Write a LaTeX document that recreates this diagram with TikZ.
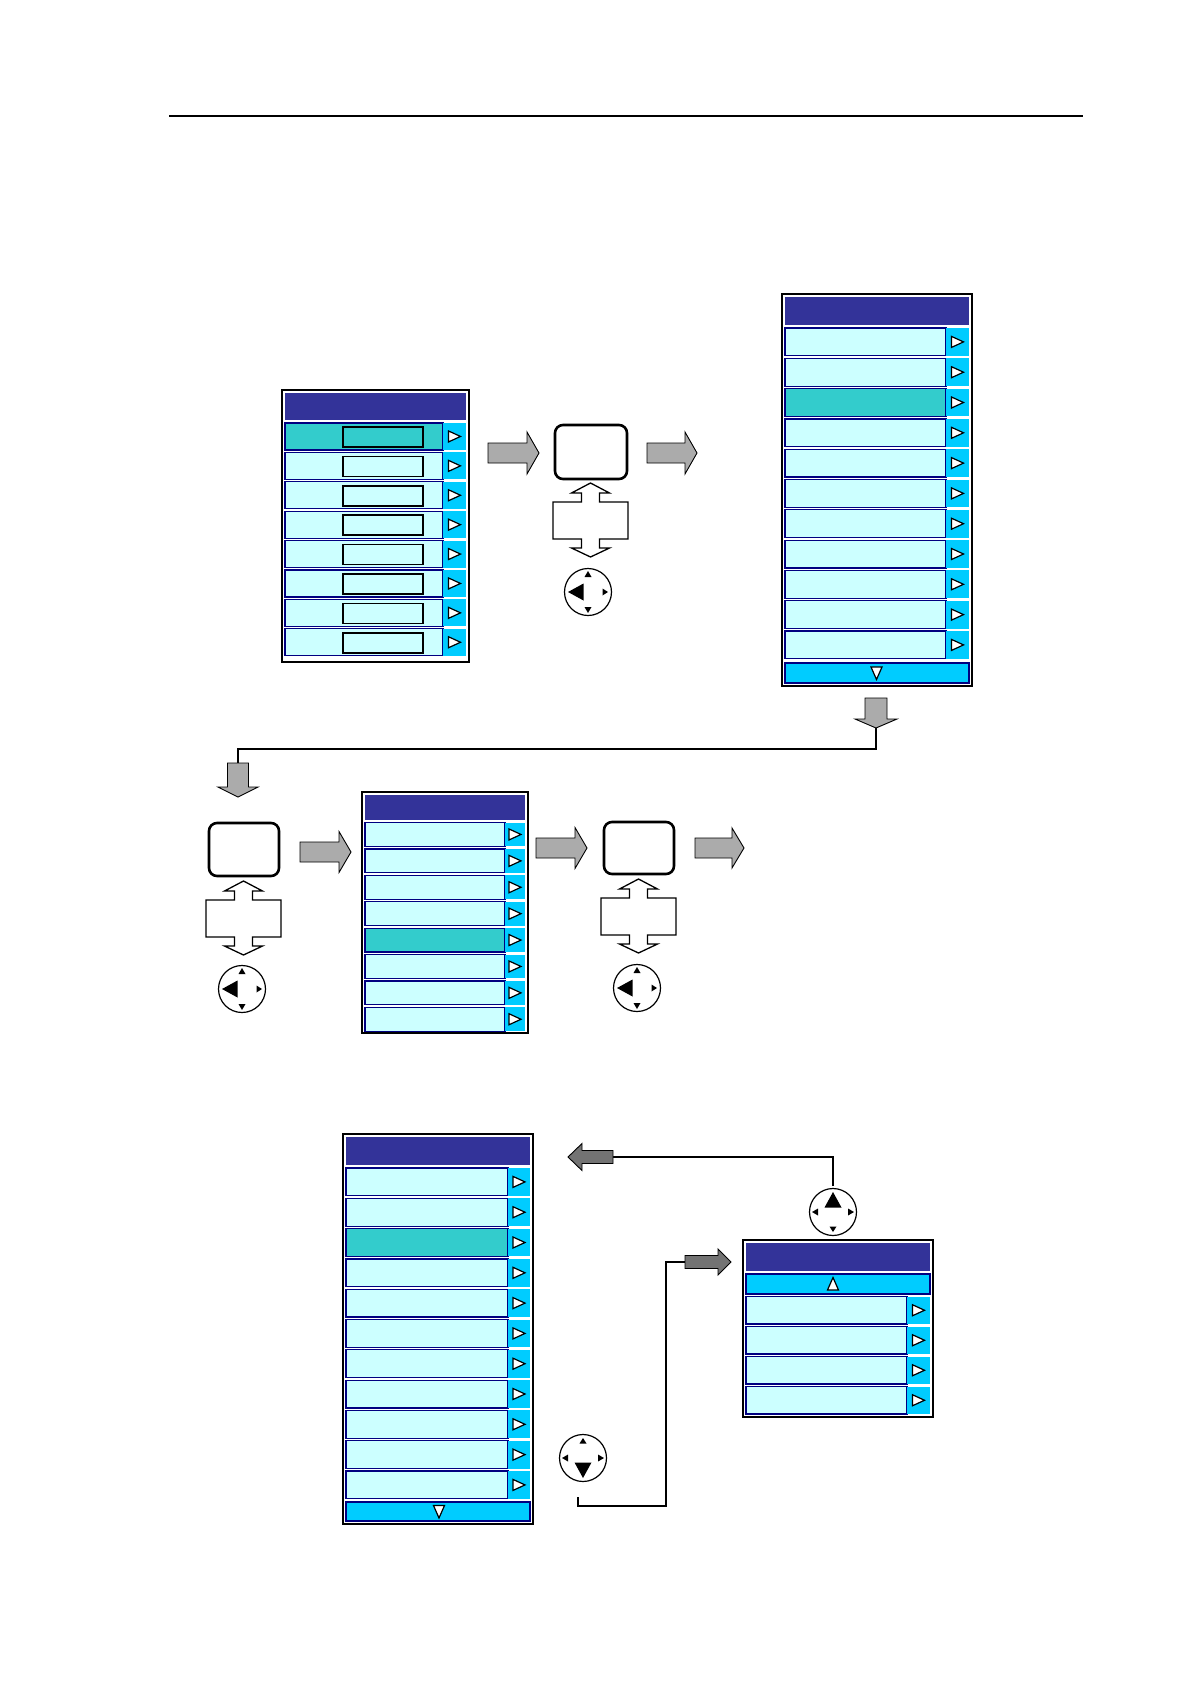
\documentclass[tikz,border=0pt]{standalone}
\usetikzlibrary{calc}
\definecolor{hdr}{RGB}{51,51,153}
\definecolor{rowc}{RGB}{204,255,255}
\definecolor{selrow}{RGB}{51,204,204}
\definecolor{btn}{RGB}{0,204,255}
\definecolor{navy}{RGB}{0,0,128}
\tikzset{
  frame/.style={draw=black,line width=1.6pt,fill=white},
  tri/.style={draw=black,fill=white,line width=1.2pt,line join=miter},
  garrowA/.style={draw=black,fill=black!33,line width=0.9pt},
  garrowB/.style={draw=black,fill=black!55,line width=0.9pt},
  screen/.style={draw=black,line width=2.6pt,rounded corners=8pt,fill=white},
  udarrow/.style={draw=black,line width=1.3pt,fill=white},
  joyc/.style={draw=black,line width=1.2pt,fill=white},
  conn/.style={draw=black,line width=1.4pt},
  pics/joy/.style={code={
    \draw[joyc] (0,0) circle (23.5);
    \fill[black] (0,-20) -- (8.5,-4.5) -- (-8.5,-4.5) -- cycle;
    \fill[black] (21,0) -- (15,-3.5) -- (15,3.5) -- cycle;
    \fill[black] (0,20) -- (-3.5,14.5) -- (3.5,14.5) -- cycle;
    \fill[black] (-21,0) -- (-15,-3.5) -- (-15,3.5) -- cycle;
  }}
}
% panel frame + header: L T R B headerbottom
\newcommand\mpanel[5]{%
  \draw[frame] (#1,#2) rectangle (#3,#4);
  \fill[hdr] (#1+3,#2+3) rectangle (#3-3,#5);
}
% rows: L rowtop rowh n buttonleft R selected
\newcommand\mrows[7]{%
  \foreach \i in {1,...,#4}{
    \pgfmathsetmacro\ya{#2+(\i-1)*#3}
    \pgfmathsetmacro\yb{\ya+#3-2.5}
    \pgfmathsetmacro\yc{(\ya+\yb)/2}
    \pgfmathsetmacro\xc{(#5+#6-3)/2}
    \ifnum\i=#7 \def\rc{selrow}\else\def\rc{rowc}\fi
    \filldraw[fill=\rc,draw=navy,line width=1.2pt] (#1+3,\ya) rectangle (#5,\yb);
    \fill[btn] (#5,\ya) rectangle (#6-3,\yb);
    \draw[tri] (\xc-6,\yc-5.5) -- ++(12,5.5) -- ++(-12,5.5) -- cycle;
  }}
% gray arrow: style tipx tipy angle len headlen bodyhalf headhalf
\newcommand\garrow[8]{%
  \begin{scope}[shift={(#2,#3)},rotate=#4]
    \draw[#1] (0,0) -- (-#6,-#8) -- (-#6,-#7) -- (-#5,-#7) -- (-#5,#7) -- (-#6,#7) -- (-#6,#8) -- cycle;
  \end{scope}}
% up-down double arrow: cx top
\newcommand\udarr[2]{%
  \draw[udarrow] (#1,#2) -- (#1+19,#2+10) -- (#1+9,#2+10) -- (#1+9,#2+19) -- (#1+37.5,#2+19) -- (#1+37.5,#2+56) -- (#1+9,#2+56) -- (#1+9,#2+65) -- (#1+19,#2+65) -- (#1,#2+74) -- (#1-19,#2+65) -- (#1-9,#2+65) -- (#1-9,#2+56) -- (#1-37.5,#2+56) -- (#1-37.5,#2+19) -- (#1-9,#2+19) -- (#1-9,#2+10) -- (#1-19,#2+10) -- cycle;}
\begin{document}
\begin{tikzpicture}[x=1pt,y=-1pt]
\useasboundingbox (0,0) rectangle (1190,1684);
\fill[white] (0,0) rectangle (1190,1684);
% header rule
\coordinate (r1) at (169,116);
\coordinate (r2) at (1083,116);
\draw[line width=2.4pt] (r1) -- (r2);

% ---------- panel 1 ----------
\mpanel{282}{390}{469}{662}{420}
\mrows{282}{423}{29.4}{8}{443}{469}{1}
\foreach \i in {1,...,8}{
  \pgfmathsetmacro\ya{423+(\i-1)*29.4}
  \draw[black,line width=1.6pt] (343,\ya+4) rectangle (423,\ya+24);
}
\garrow{garrowA}{539}{453}{0}{51}{12}{10}{21}
\node[screen,minimum width=72pt,minimum height=54pt,inner sep=0pt] (s1) at (591,452) {};
\udarr{590.5}{483}
\pic[rotate=90] at (588,592) {joy};
\garrow{garrowA}{697}{453}{0}{50}{12}{10}{21}

% ---------- panel 2 ----------
\mpanel{782}{294}{972}{686}{325}
\mrows{782}{328}{30.3}{11}{946}{972}{3}
\filldraw[fill=btn,draw=navy,line width=1.2pt] (785,663) rectangle (969,683);
\draw[tri] (871,667) -- (882,667) -- (876.5,679.5) -- cycle;
\garrow{garrowA}{876}{728}{-90}{30}{9}{11}{21}

% connector to second row
\coordinate (c1) at (876,728);
\coordinate (c2) at (238,763);
\draw[conn] (c1) -- (876,749) -| (c2);
\garrow{garrowA}{238}{797}{-90}{34}{10}{10.5}{20}

% ---------- second row ----------
\node[screen,minimum width=70pt,minimum height=53pt,inner sep=0pt] (s2) at (244,849.5) {};
\udarr{243.5}{881}
\pic[rotate=90] at (242,989) {joy};
\garrow{garrowA}{351}{852}{0}{51}{12}{10}{20.5}

\mpanel{362}{792}{528}{1033}{820}
\mrows{362}{822.5}{26.4}{8}{505}{528}{5}
\garrow{garrowA}{587}{848}{0}{51}{12}{10}{20.5}

\node[screen,minimum width=70pt,minimum height=52pt,inner sep=0pt] (s3) at (639,848) {};
\udarr{638.5}{879}
\pic[rotate=90] at (637,988) {joy};
\garrow{garrowA}{744}{848}{0}{49}{12}{10}{20}

% ---------- panel 4 ----------
\mpanel{343}{1134}{533}{1524}{1165}
\mrows{343}{1168}{30.3}{11}{508}{533}{3}
\filldraw[fill=btn,draw=navy,line width=1.2pt] (346,1502) rectangle (530,1521);
\draw[tri] (433.5,1505.5) -- (444.5,1505.5) -- (439,1518) -- cycle;

% ---------- up joystick and panel 5 ----------
\pic at (833,1212) {joy};
\coordinate (u1) at (833,1186);
\coordinate (u2) at (613,1157);
\draw[conn] (u1) |- (u2);
\garrow{garrowB}{568}{1157}{180}{45}{14}{6.5}{13.5}

\mpanel{743}{1240}{933}{1417}{1271}
\filldraw[fill=btn,draw=navy,line width=1.2pt] (746,1274) rectangle (930,1294);
\draw[tri] (833,1277.5) -- (838.5,1290) -- (827.5,1290) -- cycle;
\mrows{743}{1296.5}{30}{4}{907}{933}{0}

% ---------- down joystick ----------
\pic[rotate=180] at (583,1458) {joy};
\coordinate (d1) at (578,1497);
\coordinate (d2) at (685,1262);
\draw[conn] (d1) -- (578,1506) -- (666,1506) |- (d2);
\garrow{garrowB}{731}{1262}{0}{46}{13}{6.5}{13}
\end{tikzpicture}
\end{document}
